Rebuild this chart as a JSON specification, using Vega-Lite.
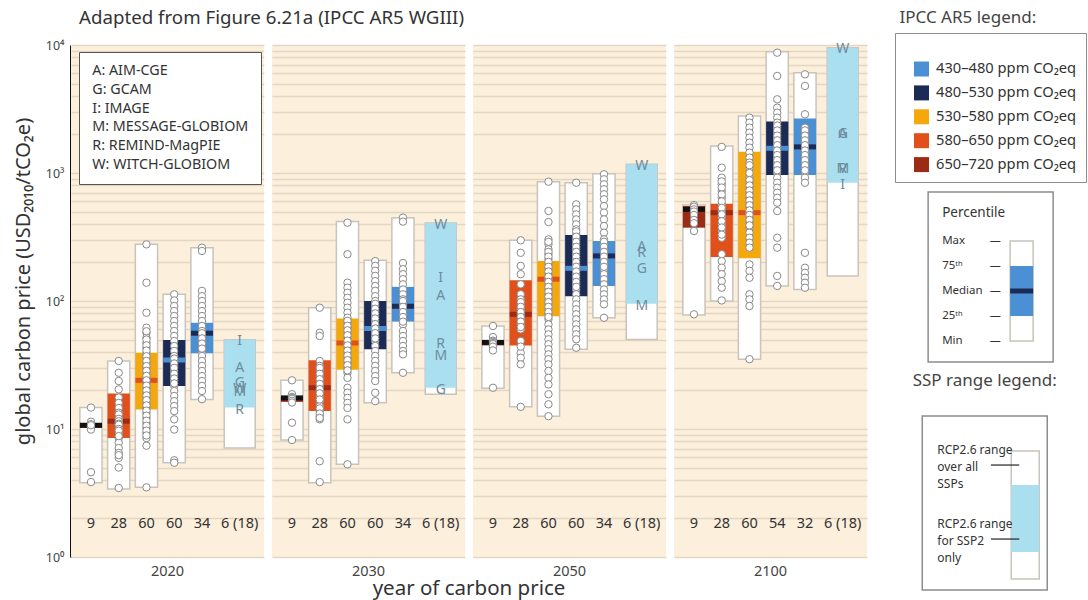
{
"$schema":"https://vega.github.io/schema/vega-lite/v6.json",
"background":"white",
"padding":{"left":13,"top":8,"right":0,"bottom":0},
"config":{"font":"Noto Sans","view":{"stroke":null},"title":{"fontWeight":"normal"}},
"spacing":27,
"columns":2,
"resolve":{"scale":{"x":"independent","y":"independent","color":"independent","fill":"independent","stroke":"independent"},"legend":{"color":"independent","fill":"independent","stroke":"independent"}},
"concat":[
{
"title":{"text":"Adapted from Figure 6.21a (IPCC AR5 WGIII)","anchor":"start","frame":"group","fontSize":18.7,"fontWeight":"normal","color":"#333333","offset":11,"dx":8},
"data":{"values":[
{"t":"box","year":"2020","cat":"650","min":3.8,"q25":10.2,"med":10.7,"q75":11.1,"max":14.7,"n":"9"},
{"t":"box","year":"2020","cat":"580","min":3.4,"q25":8.5,"med":11.5,"q75":18.9,"max":34,"n":"28"},
{"t":"box","year":"2020","cat":"530","min":3.5,"q25":14.2,"med":24,"q75":39.5,"max":277,"n":"60"},
{"t":"box","year":"2020","cat":"480","min":5.45,"q25":21.7,"med":34.6,"q75":49.6,"max":113,"n":"60"},
{"t":"box","year":"2020","cat":"430","min":17,"q25":39,"med":56,"q75":67.6,"max":261,"n":"34"},
{"t":"ssp","year":"2020","cat":"SSP","min":7.1,"q25":14.7,"q75":49.9,"max":49.9,"n":"6 (18)"},
{"t":"box","year":"2030","cat":"650","min":8.2,"q25":16.3,"med":17.5,"q75":17.9,"max":24,"n":"9"},
{"t":"box","year":"2030","cat":"580","min":3.8,"q25":13.8,"med":21,"q75":34.4,"max":88.7,"n":"28"},
{"t":"box","year":"2030","cat":"530","min":5.3,"q25":29,"med":47,"q75":73,"max":417,"n":"60"},
{"t":"box","year":"2030","cat":"480","min":16,"q25":41.9,"med":61,"q75":100,"max":208,"n":"60"},
{"t":"box","year":"2030","cat":"430","min":27.5,"q25":69,"med":91,"q75":129,"max":448,"n":"34"},
{"t":"ssp","year":"2030","cat":"SSP","min":18.7,"q25":21,"q75":407,"max":407,"n":"6 (18)"},
{"t":"box","year":"2050","cat":"650","min":20.8,"q25":45,"med":47.5,"q75":48.5,"max":63.8,"n":"9"},
{"t":"box","year":"2050","cat":"580","min":14.9,"q25":45,"med":78.7,"q75":145,"max":298,"n":"28"},
{"t":"box","year":"2050","cat":"530","min":12.6,"q25":76,"med":148,"q75":205,"max":855,"n":"60"},
{"t":"box","year":"2050","cat":"480","min":42,"q25":109,"med":180,"q75":328,"max":839,"n":"60"},
{"t":"box","year":"2050","cat":"430","min":74,"q25":131,"med":225,"q75":294,"max":988,"n":"34"},
{"t":"ssp","year":"2050","cat":"SSP","min":50,"q25":95,"q75":1170,"max":1170,"n":"6 (18)"},
{"t":"box","year":"2100","cat":"650","min":77.6,"q25":374,"med":520,"q75":552,"max":562,"n":"9"},
{"t":"box","year":"2100","cat":"580","min":100,"q25":221,"med":490,"q75":575,"max":1625,"n":"28"},
{"t":"box","year":"2100","cat":"530","min":35,"q25":216,"med":490,"q75":1466,"max":2790,"n":"60"},
{"t":"box","year":"2100","cat":"480","min":131,"q25":964,"med":1560,"q75":2520,"max":8870,"n":"54"},
{"t":"box","year":"2100","cat":"430","min":123,"q25":964,"med":1600,"q75":2670,"max":6080,"n":"32"},
{"t":"ssp","year":"2100","cat":"SSP","min":157,"q25":839,"q75":9530,"max":9530,"n":"6 (18)"},
{"t":"let","year":"2020","cat":"SSP","letter":"I","model":"I: IMAGE","v":49},
{"t":"let","year":"2020","cat":"SSP","letter":"A","model":"A: AIM-CGE","v":30},
{"t":"let","year":"2020","cat":"SSP","letter":"G","model":"G: GCAM","v":22.8},
{"t":"let","year":"2020","cat":"SSP","letter":"W","model":"W: WITCH-GLOBIOM","v":20.5},
{"t":"let","year":"2020","cat":"SSP","letter":"M","model":"M: MESSAGE-GLOBIOM","v":19.3},
{"t":"let","year":"2020","cat":"SSP","letter":"R","model":"R: REMIND-MagPIE","v":14},
{"t":"let","year":"2030","cat":"SSP","letter":"W","model":"W: WITCH-GLOBIOM","v":395},
{"t":"let","year":"2030","cat":"SSP","letter":"I","model":"I: IMAGE","v":150},
{"t":"let","year":"2030","cat":"SSP","letter":"A","model":"A: AIM-CGE","v":109},
{"t":"let","year":"2030","cat":"SSP","letter":"R","model":"R: REMIND-MagPIE","v":46},
{"t":"let","year":"2030","cat":"SSP","letter":"M","model":"M: MESSAGE-GLOBIOM","v":37},
{"t":"let","year":"2030","cat":"SSP","letter":"G","model":"G: GCAM","v":20},
{"t":"let","year":"2050","cat":"SSP","letter":"W","model":"W: WITCH-GLOBIOM","v":1135},
{"t":"let","year":"2050","cat":"SSP","letter":"A","model":"A: AIM-CGE","v":262},
{"t":"let","year":"2050","cat":"SSP","letter":"R","model":"R: REMIND-MagPIE","v":238},
{"t":"let","year":"2050","cat":"SSP","letter":"G","model":"G: GCAM","v":177},
{"t":"let","year":"2050","cat":"SSP","letter":"M","model":"M: MESSAGE-GLOBIOM","v":91},
{"t":"let","year":"2100","cat":"SSP","letter":"W","model":"W: WITCH-GLOBIOM","v":9300},
{"t":"let","year":"2100","cat":"SSP","letter":"G","model":"G: GCAM","v":2000},
{"t":"let","year":"2100","cat":"SSP","letter":"A","model":"A: AIM-CGE","v":2000},
{"t":"let","year":"2100","cat":"SSP","letter":"M","model":"M: MESSAGE-GLOBIOM","v":1070},
{"t":"let","year":"2100","cat":"SSP","letter":"R","model":"R: REMIND-MagPIE","v":1070},
{"t":"let","year":"2100","cat":"SSP","letter":"I","model":"I: IMAGE","v":805},
{"t":"pt","year":"2020","cat":"650","v":14.7},{"t":"pt","year":"2020","cat":"650","v":11.4},{"t":"pt","year":"2020","cat":"650","v":10.9},{"t":"pt","year":"2020","cat":"650","v":10.5},{"t":"pt","year":"2020","cat":"650","v":10.2},{"t":"pt","year":"2020","cat":"650","v":9.9},{"t":"pt","year":"2020","cat":"650","v":4.6},{"t":"pt","year":"2020","cat":"650","v":3.85},{"t":"pt","year":"2020","cat":"650","v":10.7},
{"t":"pt","year":"2020","cat":"580","v":34},{"t":"pt","year":"2020","cat":"580","v":27.5},{"t":"pt","year":"2020","cat":"580","v":23.7},{"t":"pt","year":"2020","cat":"580","v":20.4},{"t":"pt","year":"2020","cat":"580","v":17.6},{"t":"pt","year":"2020","cat":"580","v":16},{"t":"pt","year":"2020","cat":"580","v":14.6},{"t":"pt","year":"2020","cat":"580","v":13.4},{"t":"pt","year":"2020","cat":"580","v":12.2},{"t":"pt","year":"2020","cat":"580","v":11.2},{"t":"pt","year":"2020","cat":"580","v":10.2},{"t":"pt","year":"2020","cat":"580","v":9.35},{"t":"pt","year":"2020","cat":"580","v":8.5},{"t":"pt","year":"2020","cat":"580","v":7.8},{"t":"pt","year":"2020","cat":"580","v":7.1},{"t":"pt","year":"2020","cat":"580","v":6.5},{"t":"pt","year":"2020","cat":"580","v":5.95},{"t":"pt","year":"2020","cat":"580","v":5},{"t":"pt","year":"2020","cat":"580","v":3.46},{"t":"pt","year":"2020","cat":"580","v":13},{"t":"pt","year":"2020","cat":"580","v":12},{"t":"pt","year":"2020","cat":"580","v":11.5},{"t":"pt","year":"2020","cat":"580","v":11},{"t":"pt","year":"2020","cat":"580","v":10.8},{"t":"pt","year":"2020","cat":"580","v":10},{"t":"pt","year":"2020","cat":"580","v":9.7},{"t":"pt","year":"2020","cat":"580","v":8.8},{"t":"pt","year":"2020","cat":"580","v":6.25},
{"t":"pt","year":"2020","cat":"530","v":277},{"t":"pt","year":"2020","cat":"530","v":139},{"t":"pt","year":"2020","cat":"530","v":81},{"t":"pt","year":"2020","cat":"530","v":61.9},{"t":"pt","year":"2020","cat":"530","v":56.5},{"t":"pt","year":"2020","cat":"530","v":51.6},{"t":"pt","year":"2020","cat":"530","v":47.1},{"t":"pt","year":"2020","cat":"530","v":43},{"t":"pt","year":"2020","cat":"530","v":39.3},{"t":"pt","year":"2020","cat":"530","v":35.9},{"t":"pt","year":"2020","cat":"530","v":32.8},{"t":"pt","year":"2020","cat":"530","v":30},{"t":"pt","year":"2020","cat":"530","v":27.4},{"t":"pt","year":"2020","cat":"530","v":25},{"t":"pt","year":"2020","cat":"530","v":22.9},{"t":"pt","year":"2020","cat":"530","v":20.9},{"t":"pt","year":"2020","cat":"530","v":19.1},{"t":"pt","year":"2020","cat":"530","v":17.5},{"t":"pt","year":"2020","cat":"530","v":16},{"t":"pt","year":"2020","cat":"530","v":14.6},{"t":"pt","year":"2020","cat":"530","v":13.3},{"t":"pt","year":"2020","cat":"530","v":12.2},{"t":"pt","year":"2020","cat":"530","v":11.1},{"t":"pt","year":"2020","cat":"530","v":10.2},{"t":"pt","year":"2020","cat":"530","v":9.3},{"t":"pt","year":"2020","cat":"530","v":8.5},{"t":"pt","year":"2020","cat":"530","v":7.4},{"t":"pt","year":"2020","cat":"530","v":3.5},{"t":"pt","year":"2020","cat":"530","v":58},{"t":"pt","year":"2020","cat":"530","v":50},{"t":"pt","year":"2020","cat":"530","v":45},{"t":"pt","year":"2020","cat":"530","v":41},{"t":"pt","year":"2020","cat":"530","v":37},{"t":"pt","year":"2020","cat":"530","v":34},{"t":"pt","year":"2020","cat":"530","v":31},{"t":"pt","year":"2020","cat":"530","v":28.5},{"t":"pt","year":"2020","cat":"530","v":26},{"t":"pt","year":"2020","cat":"530","v":24},{"t":"pt","year":"2020","cat":"530","v":21.8},{"t":"pt","year":"2020","cat":"530","v":20},{"t":"pt","year":"2020","cat":"530","v":18.3},{"t":"pt","year":"2020","cat":"530","v":16.8},{"t":"pt","year":"2020","cat":"530","v":15.3},{"t":"pt","year":"2020","cat":"530","v":13.9},{"t":"pt","year":"2020","cat":"530","v":12.7},{"t":"pt","year":"2020","cat":"530","v":11.6},{"t":"pt","year":"2020","cat":"530","v":10.6},{"t":"pt","year":"2020","cat":"530","v":9.7},{"t":"pt","year":"2020","cat":"530","v":8.9},
{"t":"pt","year":"2020","cat":"480","v":112.8},{"t":"pt","year":"2020","cat":"480","v":101},{"t":"pt","year":"2020","cat":"480","v":91.4},{"t":"pt","year":"2020","cat":"480","v":83.5},{"t":"pt","year":"2020","cat":"480","v":76.3},{"t":"pt","year":"2020","cat":"480","v":69.8},{"t":"pt","year":"2020","cat":"480","v":63.8},{"t":"pt","year":"2020","cat":"480","v":58.3},{"t":"pt","year":"2020","cat":"480","v":53.3},{"t":"pt","year":"2020","cat":"480","v":48.7},{"t":"pt","year":"2020","cat":"480","v":44.5},{"t":"pt","year":"2020","cat":"480","v":40.7},{"t":"pt","year":"2020","cat":"480","v":37.2},{"t":"pt","year":"2020","cat":"480","v":34},{"t":"pt","year":"2020","cat":"480","v":31.1},{"t":"pt","year":"2020","cat":"480","v":28.4},{"t":"pt","year":"2020","cat":"480","v":25.9},{"t":"pt","year":"2020","cat":"480","v":23.7},{"t":"pt","year":"2020","cat":"480","v":21.7},{"t":"pt","year":"2020","cat":"480","v":19.8},{"t":"pt","year":"2020","cat":"480","v":18.1},{"t":"pt","year":"2020","cat":"480","v":16.5},{"t":"pt","year":"2020","cat":"480","v":15.1},{"t":"pt","year":"2020","cat":"480","v":13.8},{"t":"pt","year":"2020","cat":"480","v":11.9},{"t":"pt","year":"2020","cat":"480","v":9.9},{"t":"pt","year":"2020","cat":"480","v":5.7},{"t":"pt","year":"2020","cat":"480","v":5.45},{"t":"pt","year":"2020","cat":"480","v":35.5},{"t":"pt","year":"2020","cat":"480","v":32.5},{"t":"pt","year":"2020","cat":"480","v":30},{"t":"pt","year":"2020","cat":"480","v":27},{"t":"pt","year":"2020","cat":"480","v":24.8},{"t":"pt","year":"2020","cat":"480","v":22.7},
{"t":"pt","year":"2020","cat":"430","v":261},{"t":"pt","year":"2020","cat":"430","v":246},{"t":"pt","year":"2020","cat":"430","v":120},{"t":"pt","year":"2020","cat":"430","v":109},{"t":"pt","year":"2020","cat":"430","v":100},{"t":"pt","year":"2020","cat":"430","v":91.4},{"t":"pt","year":"2020","cat":"430","v":83.5},{"t":"pt","year":"2020","cat":"430","v":76.3},{"t":"pt","year":"2020","cat":"430","v":69.8},{"t":"pt","year":"2020","cat":"430","v":63.8},{"t":"pt","year":"2020","cat":"430","v":58.3},{"t":"pt","year":"2020","cat":"430","v":53.3},{"t":"pt","year":"2020","cat":"430","v":48.7},{"t":"pt","year":"2020","cat":"430","v":44.5},{"t":"pt","year":"2020","cat":"430","v":40.7},{"t":"pt","year":"2020","cat":"430","v":37.2},{"t":"pt","year":"2020","cat":"430","v":34},{"t":"pt","year":"2020","cat":"430","v":31.1},{"t":"pt","year":"2020","cat":"430","v":28.4},{"t":"pt","year":"2020","cat":"430","v":25.9},{"t":"pt","year":"2020","cat":"430","v":23.7},{"t":"pt","year":"2020","cat":"430","v":21.7},{"t":"pt","year":"2020","cat":"430","v":19.8},{"t":"pt","year":"2020","cat":"430","v":17.1},{"t":"pt","year":"2020","cat":"430","v":56},{"t":"pt","year":"2020","cat":"430","v":51},{"t":"pt","year":"2020","cat":"430","v":46.5},{"t":"pt","year":"2020","cat":"430","v":42.5},
{"t":"pt","year":"2030","cat":"650","v":24},{"t":"pt","year":"2030","cat":"650","v":18.7},{"t":"pt","year":"2030","cat":"650","v":17.8},{"t":"pt","year":"2030","cat":"650","v":17.5},{"t":"pt","year":"2030","cat":"650","v":17.2},{"t":"pt","year":"2030","cat":"650","v":16.6},{"t":"pt","year":"2030","cat":"650","v":16.1},{"t":"pt","year":"2030","cat":"650","v":11.2},{"t":"pt","year":"2030","cat":"650","v":8.2},
{"t":"pt","year":"2030","cat":"580","v":88.6},{"t":"pt","year":"2030","cat":"580","v":56.5},{"t":"pt","year":"2030","cat":"580","v":53.3},{"t":"pt","year":"2030","cat":"580","v":34},{"t":"pt","year":"2030","cat":"580","v":31.1},{"t":"pt","year":"2030","cat":"580","v":28.4},{"t":"pt","year":"2030","cat":"580","v":25.9},{"t":"pt","year":"2030","cat":"580","v":23.7},{"t":"pt","year":"2030","cat":"580","v":21.7},{"t":"pt","year":"2030","cat":"580","v":19.8},{"t":"pt","year":"2030","cat":"580","v":18.1},{"t":"pt","year":"2030","cat":"580","v":16.5},{"t":"pt","year":"2030","cat":"580","v":15.1},{"t":"pt","year":"2030","cat":"580","v":13.8},{"t":"pt","year":"2030","cat":"580","v":12.6},{"t":"pt","year":"2030","cat":"580","v":11.9},{"t":"pt","year":"2030","cat":"580","v":5.6},{"t":"pt","year":"2030","cat":"580","v":3.85},{"t":"pt","year":"2030","cat":"580","v":30},{"t":"pt","year":"2030","cat":"580","v":27},{"t":"pt","year":"2030","cat":"580","v":24.5},{"t":"pt","year":"2030","cat":"580","v":22.5},{"t":"pt","year":"2030","cat":"580","v":20.5},{"t":"pt","year":"2030","cat":"580","v":19},{"t":"pt","year":"2030","cat":"580","v":17},{"t":"pt","year":"2030","cat":"580","v":14.5},{"t":"pt","year":"2030","cat":"580","v":13.2},{"t":"pt","year":"2030","cat":"580","v":12.2},
{"t":"pt","year":"2030","cat":"530","v":409},{"t":"pt","year":"2030","cat":"530","v":232},{"t":"pt","year":"2030","cat":"530","v":139},{"t":"pt","year":"2030","cat":"530","v":127},{"t":"pt","year":"2030","cat":"530","v":116},{"t":"pt","year":"2030","cat":"530","v":106},{"t":"pt","year":"2030","cat":"530","v":97},{"t":"pt","year":"2030","cat":"530","v":88.6},{"t":"pt","year":"2030","cat":"530","v":81},{"t":"pt","year":"2030","cat":"530","v":74},{"t":"pt","year":"2030","cat":"530","v":67.6},{"t":"pt","year":"2030","cat":"530","v":61.8},{"t":"pt","year":"2030","cat":"530","v":56.5},{"t":"pt","year":"2030","cat":"530","v":51.6},{"t":"pt","year":"2030","cat":"530","v":47.1},{"t":"pt","year":"2030","cat":"530","v":43.1},{"t":"pt","year":"2030","cat":"530","v":39.4},{"t":"pt","year":"2030","cat":"530","v":36},{"t":"pt","year":"2030","cat":"530","v":32.9},{"t":"pt","year":"2030","cat":"530","v":30},{"t":"pt","year":"2030","cat":"530","v":27.5},{"t":"pt","year":"2030","cat":"530","v":25.1},{"t":"pt","year":"2030","cat":"530","v":21},{"t":"pt","year":"2030","cat":"530","v":19.2},{"t":"pt","year":"2030","cat":"530","v":17.5},{"t":"pt","year":"2030","cat":"530","v":16},{"t":"pt","year":"2030","cat":"530","v":14.6},{"t":"pt","year":"2030","cat":"530","v":11.9},{"t":"pt","year":"2030","cat":"530","v":5.3},{"t":"pt","year":"2030","cat":"530","v":70},{"t":"pt","year":"2030","cat":"530","v":64},{"t":"pt","year":"2030","cat":"530","v":59},{"t":"pt","year":"2030","cat":"530","v":54},{"t":"pt","year":"2030","cat":"530","v":49},{"t":"pt","year":"2030","cat":"530","v":45},{"t":"pt","year":"2030","cat":"530","v":41},{"t":"pt","year":"2030","cat":"530","v":37.5},{"t":"pt","year":"2030","cat":"530","v":34.5},{"t":"pt","year":"2030","cat":"530","v":31.5},{"t":"pt","year":"2030","cat":"530","v":28.7},
{"t":"pt","year":"2030","cat":"480","v":205},{"t":"pt","year":"2030","cat":"480","v":188},{"t":"pt","year":"2030","cat":"480","v":172},{"t":"pt","year":"2030","cat":"480","v":157},{"t":"pt","year":"2030","cat":"480","v":143},{"t":"pt","year":"2030","cat":"480","v":131},{"t":"pt","year":"2030","cat":"480","v":120},{"t":"pt","year":"2030","cat":"480","v":109},{"t":"pt","year":"2030","cat":"480","v":100},{"t":"pt","year":"2030","cat":"480","v":91.4},{"t":"pt","year":"2030","cat":"480","v":83.5},{"t":"pt","year":"2030","cat":"480","v":76.3},{"t":"pt","year":"2030","cat":"480","v":69.8},{"t":"pt","year":"2030","cat":"480","v":63.8},{"t":"pt","year":"2030","cat":"480","v":58.3},{"t":"pt","year":"2030","cat":"480","v":53.3},{"t":"pt","year":"2030","cat":"480","v":48.7},{"t":"pt","year":"2030","cat":"480","v":44.5},{"t":"pt","year":"2030","cat":"480","v":40.7},{"t":"pt","year":"2030","cat":"480","v":37.2},{"t":"pt","year":"2030","cat":"480","v":34},{"t":"pt","year":"2030","cat":"480","v":31.1},{"t":"pt","year":"2030","cat":"480","v":28.4},{"t":"pt","year":"2030","cat":"480","v":25.9},{"t":"pt","year":"2030","cat":"480","v":23.7},{"t":"pt","year":"2030","cat":"480","v":19.2},{"t":"pt","year":"2030","cat":"480","v":16.5},{"t":"pt","year":"2030","cat":"480","v":95},{"t":"pt","year":"2030","cat":"480","v":87},{"t":"pt","year":"2030","cat":"480","v":80},{"t":"pt","year":"2030","cat":"480","v":73},{"t":"pt","year":"2030","cat":"480","v":66},{"t":"pt","year":"2030","cat":"480","v":61},{"t":"pt","year":"2030","cat":"480","v":56},{"t":"pt","year":"2030","cat":"480","v":51},
{"t":"pt","year":"2030","cat":"430","v":448},{"t":"pt","year":"2030","cat":"430","v":417},{"t":"pt","year":"2030","cat":"430","v":198},{"t":"pt","year":"2030","cat":"430","v":177},{"t":"pt","year":"2030","cat":"430","v":162},{"t":"pt","year":"2030","cat":"430","v":148},{"t":"pt","year":"2030","cat":"430","v":135},{"t":"pt","year":"2030","cat":"430","v":123},{"t":"pt","year":"2030","cat":"430","v":112.8},{"t":"pt","year":"2030","cat":"430","v":103},{"t":"pt","year":"2030","cat":"430","v":94.2},{"t":"pt","year":"2030","cat":"430","v":86.1},{"t":"pt","year":"2030","cat":"430","v":78.7},{"t":"pt","year":"2030","cat":"430","v":71.9},{"t":"pt","year":"2030","cat":"430","v":65.7},{"t":"pt","year":"2030","cat":"430","v":58.3},{"t":"pt","year":"2030","cat":"430","v":53.3},{"t":"pt","year":"2030","cat":"430","v":48.7},{"t":"pt","year":"2030","cat":"430","v":44.5},{"t":"pt","year":"2030","cat":"430","v":40.7},{"t":"pt","year":"2030","cat":"430","v":38.3},{"t":"pt","year":"2030","cat":"430","v":27.5},{"t":"pt","year":"2030","cat":"430","v":100},{"t":"pt","year":"2030","cat":"430","v":90},{"t":"pt","year":"2030","cat":"430","v":82},{"t":"pt","year":"2030","cat":"430","v":75},{"t":"pt","year":"2030","cat":"430","v":69},
{"t":"pt","year":"2050","cat":"650","v":63.8},{"t":"pt","year":"2050","cat":"650","v":52.3},{"t":"pt","year":"2050","cat":"650","v":49},{"t":"pt","year":"2050","cat":"650","v":48},{"t":"pt","year":"2050","cat":"650","v":47},{"t":"pt","year":"2050","cat":"650","v":46},{"t":"pt","year":"2050","cat":"650","v":44},{"t":"pt","year":"2050","cat":"650","v":41.1},{"t":"pt","year":"2050","cat":"650","v":21},
{"t":"pt","year":"2050","cat":"580","v":298},{"t":"pt","year":"2050","cat":"580","v":238},{"t":"pt","year":"2050","cat":"580","v":188},{"t":"pt","year":"2050","cat":"580","v":162},{"t":"pt","year":"2050","cat":"580","v":135},{"t":"pt","year":"2050","cat":"580","v":112.8},{"t":"pt","year":"2050","cat":"580","v":103},{"t":"pt","year":"2050","cat":"580","v":94.2},{"t":"pt","year":"2050","cat":"580","v":86.1},{"t":"pt","year":"2050","cat":"580","v":78.7},{"t":"pt","year":"2050","cat":"580","v":71.9},{"t":"pt","year":"2050","cat":"580","v":65.7},{"t":"pt","year":"2050","cat":"580","v":60},{"t":"pt","year":"2050","cat":"580","v":48.7},{"t":"pt","year":"2050","cat":"580","v":39.4},{"t":"pt","year":"2050","cat":"580","v":36},{"t":"pt","year":"2050","cat":"580","v":32},{"t":"pt","year":"2050","cat":"580","v":14.9},{"t":"pt","year":"2050","cat":"580","v":98},{"t":"pt","year":"2050","cat":"580","v":90},{"t":"pt","year":"2050","cat":"580","v":82},{"t":"pt","year":"2050","cat":"580","v":75},{"t":"pt","year":"2050","cat":"580","v":69},{"t":"pt","year":"2050","cat":"580","v":62.7},{"t":"pt","year":"2050","cat":"580","v":44},
{"t":"pt","year":"2050","cat":"530","v":855},{"t":"pt","year":"2050","cat":"530","v":505},{"t":"pt","year":"2050","cat":"530","v":414},{"t":"pt","year":"2050","cat":"530","v":303},{"t":"pt","year":"2050","cat":"530","v":277},{"t":"pt","year":"2050","cat":"530","v":253},{"t":"pt","year":"2050","cat":"530","v":232},{"t":"pt","year":"2050","cat":"530","v":212},{"t":"pt","year":"2050","cat":"530","v":193},{"t":"pt","year":"2050","cat":"530","v":177},{"t":"pt","year":"2050","cat":"530","v":162},{"t":"pt","year":"2050","cat":"530","v":148},{"t":"pt","year":"2050","cat":"530","v":135},{"t":"pt","year":"2050","cat":"530","v":123},{"t":"pt","year":"2050","cat":"530","v":112.8},{"t":"pt","year":"2050","cat":"530","v":103},{"t":"pt","year":"2050","cat":"530","v":94.2},{"t":"pt","year":"2050","cat":"530","v":86.1},{"t":"pt","year":"2050","cat":"530","v":78.7},{"t":"pt","year":"2050","cat":"530","v":71.9},{"t":"pt","year":"2050","cat":"530","v":65.7},{"t":"pt","year":"2050","cat":"530","v":60},{"t":"pt","year":"2050","cat":"530","v":54.9},{"t":"pt","year":"2050","cat":"530","v":50.2},{"t":"pt","year":"2050","cat":"530","v":45.9},{"t":"pt","year":"2050","cat":"530","v":42},{"t":"pt","year":"2050","cat":"530","v":38.3},{"t":"pt","year":"2050","cat":"530","v":35.1},{"t":"pt","year":"2050","cat":"530","v":32},{"t":"pt","year":"2050","cat":"530","v":28.4},{"t":"pt","year":"2050","cat":"530","v":25.1},{"t":"pt","year":"2050","cat":"530","v":22.3},{"t":"pt","year":"2050","cat":"530","v":18.7},{"t":"pt","year":"2050","cat":"530","v":15.6},{"t":"pt","year":"2050","cat":"530","v":12.6},{"t":"pt","year":"2050","cat":"530","v":290},{"t":"pt","year":"2050","cat":"530","v":242},{"t":"pt","year":"2050","cat":"530","v":222},{"t":"pt","year":"2050","cat":"530","v":202},{"t":"pt","year":"2050","cat":"530","v":185},{"t":"pt","year":"2050","cat":"530","v":170},{"t":"pt","year":"2050","cat":"530","v":155},{"t":"pt","year":"2050","cat":"530","v":141},{"t":"pt","year":"2050","cat":"530","v":129},{"t":"pt","year":"2050","cat":"530","v":118},{"t":"pt","year":"2050","cat":"530","v":108},{"t":"pt","year":"2050","cat":"530","v":98},{"t":"pt","year":"2050","cat":"530","v":90},{"t":"pt","year":"2050","cat":"530","v":82},{"t":"pt","year":"2050","cat":"530","v":75},
{"t":"pt","year":"2050","cat":"480","v":839},{"t":"pt","year":"2050","cat":"480","v":569},{"t":"pt","year":"2050","cat":"480","v":520},{"t":"pt","year":"2050","cat":"480","v":475},{"t":"pt","year":"2050","cat":"480","v":434},{"t":"pt","year":"2050","cat":"480","v":397},{"t":"pt","year":"2050","cat":"480","v":363},{"t":"pt","year":"2050","cat":"480","v":332},{"t":"pt","year":"2050","cat":"480","v":303},{"t":"pt","year":"2050","cat":"480","v":277},{"t":"pt","year":"2050","cat":"480","v":253},{"t":"pt","year":"2050","cat":"480","v":232},{"t":"pt","year":"2050","cat":"480","v":212},{"t":"pt","year":"2050","cat":"480","v":193},{"t":"pt","year":"2050","cat":"480","v":177},{"t":"pt","year":"2050","cat":"480","v":162},{"t":"pt","year":"2050","cat":"480","v":148},{"t":"pt","year":"2050","cat":"480","v":135},{"t":"pt","year":"2050","cat":"480","v":123},{"t":"pt","year":"2050","cat":"480","v":112.8},{"t":"pt","year":"2050","cat":"480","v":103},{"t":"pt","year":"2050","cat":"480","v":94.2},{"t":"pt","year":"2050","cat":"480","v":86.1},{"t":"pt","year":"2050","cat":"480","v":78.7},{"t":"pt","year":"2050","cat":"480","v":71.9},{"t":"pt","year":"2050","cat":"480","v":65.7},{"t":"pt","year":"2050","cat":"480","v":60},{"t":"pt","year":"2050","cat":"480","v":54.9},{"t":"pt","year":"2050","cat":"480","v":50.2},{"t":"pt","year":"2050","cat":"480","v":43.1},{"t":"pt","year":"2050","cat":"480","v":350},{"t":"pt","year":"2050","cat":"480","v":318},{"t":"pt","year":"2050","cat":"480","v":290},{"t":"pt","year":"2050","cat":"480","v":265},{"t":"pt","year":"2050","cat":"480","v":242},{"t":"pt","year":"2050","cat":"480","v":222},{"t":"pt","year":"2050","cat":"480","v":202},{"t":"pt","year":"2050","cat":"480","v":185},{"t":"pt","year":"2050","cat":"480","v":170},{"t":"pt","year":"2050","cat":"480","v":155},{"t":"pt","year":"2050","cat":"480","v":141},{"t":"pt","year":"2050","cat":"480","v":129},
{"t":"pt","year":"2050","cat":"430","v":977},{"t":"pt","year":"2050","cat":"430","v":893},{"t":"pt","year":"2050","cat":"430","v":816},{"t":"pt","year":"2050","cat":"430","v":746},{"t":"pt","year":"2050","cat":"430","v":682},{"t":"pt","year":"2050","cat":"430","v":623},{"t":"pt","year":"2050","cat":"430","v":552},{"t":"pt","year":"2050","cat":"430","v":490},{"t":"pt","year":"2050","cat":"430","v":434},{"t":"pt","year":"2050","cat":"430","v":385},{"t":"pt","year":"2050","cat":"430","v":342},{"t":"pt","year":"2050","cat":"430","v":303},{"t":"pt","year":"2050","cat":"430","v":277},{"t":"pt","year":"2050","cat":"430","v":253},{"t":"pt","year":"2050","cat":"430","v":232},{"t":"pt","year":"2050","cat":"430","v":212},{"t":"pt","year":"2050","cat":"430","v":193},{"t":"pt","year":"2050","cat":"430","v":177},{"t":"pt","year":"2050","cat":"430","v":162},{"t":"pt","year":"2050","cat":"430","v":148},{"t":"pt","year":"2050","cat":"430","v":135},{"t":"pt","year":"2050","cat":"430","v":123},{"t":"pt","year":"2050","cat":"430","v":112.8},{"t":"pt","year":"2050","cat":"430","v":103},{"t":"pt","year":"2050","cat":"430","v":94.2},{"t":"pt","year":"2050","cat":"430","v":74},{"t":"pt","year":"2050","cat":"430","v":290},{"t":"pt","year":"2050","cat":"430","v":265},{"t":"pt","year":"2050","cat":"430","v":242},{"t":"pt","year":"2050","cat":"430","v":222},{"t":"pt","year":"2050","cat":"430","v":202},{"t":"pt","year":"2050","cat":"430","v":185},
{"t":"pt","year":"2100","cat":"650","v":562},{"t":"pt","year":"2100","cat":"650","v":545},{"t":"pt","year":"2100","cat":"650","v":520},{"t":"pt","year":"2100","cat":"650","v":500},{"t":"pt","year":"2100","cat":"650","v":470},{"t":"pt","year":"2100","cat":"650","v":430},{"t":"pt","year":"2100","cat":"650","v":405},{"t":"pt","year":"2100","cat":"650","v":352},{"t":"pt","year":"2100","cat":"650","v":78.7},
{"t":"pt","year":"2100","cat":"580","v":1600},{"t":"pt","year":"2100","cat":"580","v":1100},{"t":"pt","year":"2100","cat":"580","v":919},{"t":"pt","year":"2100","cat":"580","v":816},{"t":"pt","year":"2100","cat":"580","v":723},{"t":"pt","year":"2100","cat":"580","v":641},{"t":"pt","year":"2100","cat":"580","v":569},{"t":"pt","year":"2100","cat":"580","v":505},{"t":"pt","year":"2100","cat":"580","v":448},{"t":"pt","year":"2100","cat":"580","v":397},{"t":"pt","year":"2100","cat":"580","v":352},{"t":"pt","year":"2100","cat":"580","v":312},{"t":"pt","year":"2100","cat":"580","v":232},{"t":"pt","year":"2100","cat":"580","v":205},{"t":"pt","year":"2100","cat":"580","v":182},{"t":"pt","year":"2100","cat":"580","v":162},{"t":"pt","year":"2100","cat":"580","v":143},{"t":"pt","year":"2100","cat":"580","v":127},{"t":"pt","year":"2100","cat":"580","v":101},{"t":"pt","year":"2100","cat":"580","v":860},{"t":"pt","year":"2100","cat":"580","v":770},{"t":"pt","year":"2100","cat":"580","v":680},{"t":"pt","year":"2100","cat":"580","v":600},{"t":"pt","year":"2100","cat":"580","v":535},{"t":"pt","year":"2100","cat":"580","v":475},{"t":"pt","year":"2100","cat":"580","v":420},{"t":"pt","year":"2100","cat":"580","v":375},{"t":"pt","year":"2100","cat":"580","v":330},
{"t":"pt","year":"2100","cat":"530","v":2705},{"t":"pt","year":"2100","cat":"530","v":2473},{"t":"pt","year":"2100","cat":"530","v":2260},{"t":"pt","year":"2100","cat":"530","v":2065},{"t":"pt","year":"2100","cat":"530","v":1888},{"t":"pt","year":"2100","cat":"530","v":1726},{"t":"pt","year":"2100","cat":"530","v":1578},{"t":"pt","year":"2100","cat":"530","v":1442},{"t":"pt","year":"2100","cat":"530","v":1318},{"t":"pt","year":"2100","cat":"530","v":1205},{"t":"pt","year":"2100","cat":"530","v":1100},{"t":"pt","year":"2100","cat":"530","v":919},{"t":"pt","year":"2100","cat":"530","v":839},{"t":"pt","year":"2100","cat":"530","v":767},{"t":"pt","year":"2100","cat":"530","v":701},{"t":"pt","year":"2100","cat":"530","v":641},{"t":"pt","year":"2100","cat":"530","v":586},{"t":"pt","year":"2100","cat":"530","v":536},{"t":"pt","year":"2100","cat":"530","v":490},{"t":"pt","year":"2100","cat":"530","v":448},{"t":"pt","year":"2100","cat":"530","v":409},{"t":"pt","year":"2100","cat":"530","v":374},{"t":"pt","year":"2100","cat":"530","v":342},{"t":"pt","year":"2100","cat":"530","v":312},{"t":"pt","year":"2100","cat":"530","v":285},{"t":"pt","year":"2100","cat":"530","v":261},{"t":"pt","year":"2100","cat":"530","v":193},{"t":"pt","year":"2100","cat":"530","v":172},{"t":"pt","year":"2100","cat":"530","v":152},{"t":"pt","year":"2100","cat":"530","v":112.8},{"t":"pt","year":"2100","cat":"530","v":103},{"t":"pt","year":"2100","cat":"530","v":91.4},{"t":"pt","year":"2100","cat":"530","v":35.1},{"t":"pt","year":"2100","cat":"530","v":1150},{"t":"pt","year":"2100","cat":"530","v":1000},{"t":"pt","year":"2100","cat":"530","v":880},{"t":"pt","year":"2100","cat":"530","v":800},{"t":"pt","year":"2100","cat":"530","v":730},{"t":"pt","year":"2100","cat":"530","v":670},{"t":"pt","year":"2100","cat":"530","v":610},{"t":"pt","year":"2100","cat":"530","v":560},{"t":"pt","year":"2100","cat":"530","v":510},{"t":"pt","year":"2100","cat":"530","v":470},{"t":"pt","year":"2100","cat":"530","v":430},{"t":"pt","year":"2100","cat":"530","v":390},
{"t":"pt","year":"2100","cat":"480","v":8710},{"t":"pt","year":"2100","cat":"480","v":5730},{"t":"pt","year":"2100","cat":"480","v":3765},{"t":"pt","year":"2100","cat":"480","v":3237},{"t":"pt","year":"2100","cat":"480","v":2958},{"t":"pt","year":"2100","cat":"480","v":2705},{"t":"pt","year":"2100","cat":"480","v":2473},{"t":"pt","year":"2100","cat":"480","v":2260},{"t":"pt","year":"2100","cat":"480","v":2065},{"t":"pt","year":"2100","cat":"480","v":1888},{"t":"pt","year":"2100","cat":"480","v":1726},{"t":"pt","year":"2100","cat":"480","v":1578},{"t":"pt","year":"2100","cat":"480","v":1442},{"t":"pt","year":"2100","cat":"480","v":1318},{"t":"pt","year":"2100","cat":"480","v":1205},{"t":"pt","year":"2100","cat":"480","v":1100},{"t":"pt","year":"2100","cat":"480","v":1005},{"t":"pt","year":"2100","cat":"480","v":919},{"t":"pt","year":"2100","cat":"480","v":839},{"t":"pt","year":"2100","cat":"480","v":767},{"t":"pt","year":"2100","cat":"480","v":701},{"t":"pt","year":"2100","cat":"480","v":641},{"t":"pt","year":"2100","cat":"480","v":586},{"t":"pt","year":"2100","cat":"480","v":505},{"t":"pt","year":"2100","cat":"480","v":312},{"t":"pt","year":"2100","cat":"480","v":261},{"t":"pt","year":"2100","cat":"480","v":157},{"t":"pt","year":"2100","cat":"480","v":131},{"t":"pt","year":"2100","cat":"480","v":2350},{"t":"pt","year":"2100","cat":"480","v":2150},{"t":"pt","year":"2100","cat":"480","v":1960},{"t":"pt","year":"2100","cat":"480","v":1800},{"t":"pt","year":"2100","cat":"480","v":1650},{"t":"pt","year":"2100","cat":"480","v":1500},{"t":"pt","year":"2100","cat":"480","v":1380},{"t":"pt","year":"2100","cat":"480","v":1260},{"t":"pt","year":"2100","cat":"480","v":1150},{"t":"pt","year":"2100","cat":"480","v":1050},
{"t":"pt","year":"2100","cat":"430","v":5900},{"t":"pt","year":"2100","cat":"430","v":4786},{"t":"pt","year":"2100","cat":"430","v":2875},{"t":"pt","year":"2100","cat":"430","v":2260},{"t":"pt","year":"2100","cat":"430","v":2065},{"t":"pt","year":"2100","cat":"430","v":1888},{"t":"pt","year":"2100","cat":"430","v":1726},{"t":"pt","year":"2100","cat":"430","v":1578},{"t":"pt","year":"2100","cat":"430","v":1442},{"t":"pt","year":"2100","cat":"430","v":1318},{"t":"pt","year":"2100","cat":"430","v":1205},{"t":"pt","year":"2100","cat":"430","v":1100},{"t":"pt","year":"2100","cat":"430","v":1005},{"t":"pt","year":"2100","cat":"430","v":919},{"t":"pt","year":"2100","cat":"430","v":839},{"t":"pt","year":"2100","cat":"430","v":238},{"t":"pt","year":"2100","cat":"430","v":182},{"t":"pt","year":"2100","cat":"430","v":166},{"t":"pt","year":"2100","cat":"430","v":152},{"t":"pt","year":"2100","cat":"430","v":139},{"t":"pt","year":"2100","cat":"430","v":127},{"t":"pt","year":"2100","cat":"430","v":2150},{"t":"pt","year":"2100","cat":"430","v":1960},{"t":"pt","year":"2100","cat":"430","v":1800},{"t":"pt","year":"2100","cat":"430","v":1650},{"t":"pt","year":"2100","cat":"430","v":1500},{"t":"pt","year":"2100","cat":"430","v":1380},{"t":"pt","year":"2100","cat":"430","v":1260},{"t":"pt","year":"2100","cat":"430","v":1150},{"t":"pt","year":"2100","cat":"430","v":1050}
]},
"facet":{"column":{"field":"year","type":"ordinal","header":{"labelOrient":"bottom","labelFontSize":14.5,"labelColor":"#444444","labelPadding":8,"title":"year of carbon price","titleOrient":"bottom","titleFontSize":20.5,"titleFontWeight":"normal","titleColor":"#333333","titlePadding":-10}}},
"spacing":8,
"spec":{
"width":193,"height":512,
"view":{"fill":"#fcf0dd","stroke":null},
"layer":[
{"transform":[{"filter":"datum.t=='box'"}],
 "mark":{"type":"bar","fill":"white","stroke":"#c8c4bc","strokeWidth":1.5,"width":{"band":0.8}},
 "encoding":{
  "x":{"field":"cat","type":"nominal","scale":{"domain":["650","580","530","480","430","SSP"],"paddingInner":0,"paddingOuter":0.4775,"align":0.23},"axis":null},
  "y":{"field":"min","type":"quantitative","scale":{"type":"log","domain":[1,10000],"nice":false},
   "axis":{"title":"global carbon price (USD₂₀₁₀/tCO₂e)","values":[1,2,3,4,5,6,7,8,9,10,20,30,40,50,60,70,80,90,100,200,300,400,500,600,700,800,900,1000,2000,3000,4000,5000,6000,7000,8000,9000,10000],"labelExpr":"datum.value == 1 ? '10⁰' : datum.value == 10 ? '10¹' : datum.value == 100 ? '10²' : datum.value == 1000 ? '10³' : datum.value == 10000 ? '10⁴' : ''","grid":true,"gridColor":"#e4d6c1","gridWidth":1.5,"ticks":false,"domain":true,"domainColor":"#111111","domainWidth":3,"labelFontSize":12.5,"labelColor":"#444444","labelPadding":7,"labelOverlap":false,"titleFontSize":20,"titleFontWeight":"normal","titleColor":"#333333","titlePadding":12,"titleY":236}},
  "y2":{"field":"max"}}},
{"transform":[{"filter":"datum.t=='box'"}],
 "mark":{"type":"bar","width":{"band":0.8}},
 "encoding":{
  "x":{"field":"cat","type":"nominal","scale":{"domain":["650","580","530","480","430","SSP"],"paddingInner":0,"paddingOuter":0.4775,"align":0.23},"axis":null},
  "y":{"field":"q25","type":"quantitative","scale":{"type":"log","domain":[1,10000],"nice":false},
   "axis":{"title":"global carbon price (USD₂₀₁₀/tCO₂e)","values":[1,2,3,4,5,6,7,8,9,10,20,30,40,50,60,70,80,90,100,200,300,400,500,600,700,800,900,1000,2000,3000,4000,5000,6000,7000,8000,9000,10000],"labelExpr":"datum.value == 1 ? '10⁰' : datum.value == 10 ? '10¹' : datum.value == 100 ? '10²' : datum.value == 1000 ? '10³' : datum.value == 10000 ? '10⁴' : ''","grid":true,"gridColor":"#e4d6c1","gridWidth":1.5,"ticks":false,"domain":true,"domainColor":"#111111","domainWidth":3,"labelFontSize":12.5,"labelColor":"#444444","labelPadding":7,"labelOverlap":false,"titleFontSize":20,"titleFontWeight":"normal","titleColor":"#333333","titlePadding":12,"titleY":236}},
  "y2":{"field":"q75"},
  "fill":{"field":"cat","type":"nominal","scale":{"domain":["650","580","530","480","430"],"range":["#9c2b16","#e14f1b","#f4a80c","#1c2b56","#4b8fd5"]},"legend":null}}},
{"transform":[{"filter":"datum.t=='box'"}],
 "mark":{"type":"tick","thickness":5,"size":22,"opacity":1},
 "encoding":{
  "x":{"field":"cat","type":"nominal","scale":{"domain":["650","580","530","480","430","SSP"],"paddingInner":0,"paddingOuter":0.4775,"align":0.23},"axis":null},
  "y":{"field":"med","type":"quantitative","scale":{"type":"log","domain":[1,10000],"nice":false},
   "axis":{"title":"global carbon price (USD₂₀₁₀/tCO₂e)","values":[1,2,3,4,5,6,7,8,9,10,20,30,40,50,60,70,80,90,100,200,300,400,500,600,700,800,900,1000,2000,3000,4000,5000,6000,7000,8000,9000,10000],"labelExpr":"datum.value == 1 ? '10⁰' : datum.value == 10 ? '10¹' : datum.value == 100 ? '10²' : datum.value == 1000 ? '10³' : datum.value == 10000 ? '10⁴' : ''","grid":true,"gridColor":"#e4d6c1","gridWidth":1.5,"ticks":false,"domain":true,"domainColor":"#111111","domainWidth":3,"labelFontSize":12.5,"labelColor":"#444444","labelPadding":7,"labelOverlap":false,"titleFontSize":20,"titleFontWeight":"normal","titleColor":"#333333","titlePadding":12,"titleY":236}},
  "color":{"field":"cat","type":"nominal","scale":{"domain":["650","580","530","480","430"],"range":["#111111","#9c2b16","#e14f1b","#4b8fd5","#1c2b56"]},"legend":null}}},
{"transform":[{"filter":"datum.t=='pt'"}],
 "mark":{"type":"point","shape":"circle","filled":true,"fill":"white","stroke":"#8a8a8a","strokeWidth":1,"size":55,"opacity":1},
 "encoding":{
  "x":{"field":"cat","type":"nominal","scale":{"domain":["650","580","530","480","430","SSP"],"paddingInner":0,"paddingOuter":0.4775,"align":0.23},"axis":null},
  "y":{"field":"v","type":"quantitative","scale":{"type":"log","domain":[1,10000],"nice":false},
   "axis":{"title":"global carbon price (USD₂₀₁₀/tCO₂e)","values":[1,2,3,4,5,6,7,8,9,10,20,30,40,50,60,70,80,90,100,200,300,400,500,600,700,800,900,1000,2000,3000,4000,5000,6000,7000,8000,9000,10000],"labelExpr":"datum.value == 1 ? '10⁰' : datum.value == 10 ? '10¹' : datum.value == 100 ? '10²' : datum.value == 1000 ? '10³' : datum.value == 10000 ? '10⁴' : ''","grid":true,"gridColor":"#e4d6c1","gridWidth":1.5,"ticks":false,"domain":true,"domainColor":"#111111","domainWidth":3,"labelFontSize":12.5,"labelColor":"#444444","labelPadding":7,"labelOverlap":false,"titleFontSize":20,"titleFontWeight":"normal","titleColor":"#333333","titlePadding":12,"titleY":236}}}},
{"transform":[{"filter":"datum.t=='ssp'"}],
 "mark":{"type":"bar","fill":"white","stroke":"#c8c4bc","strokeWidth":1.5,"width":31,"xOffset":10},
 "encoding":{
  "x":{"field":"cat","type":"nominal","scale":{"domain":["650","580","530","480","430","SSP"],"paddingInner":0,"paddingOuter":0.4775,"align":0.23},"axis":null},
  "y":{"field":"min","type":"quantitative","scale":{"type":"log","domain":[1,10000],"nice":false},
   "axis":{"title":"global carbon price (USD₂₀₁₀/tCO₂e)","values":[1,2,3,4,5,6,7,8,9,10,20,30,40,50,60,70,80,90,100,200,300,400,500,600,700,800,900,1000,2000,3000,4000,5000,6000,7000,8000,9000,10000],"labelExpr":"datum.value == 1 ? '10⁰' : datum.value == 10 ? '10¹' : datum.value == 100 ? '10²' : datum.value == 1000 ? '10³' : datum.value == 10000 ? '10⁴' : ''","grid":true,"gridColor":"#e4d6c1","gridWidth":1.5,"ticks":false,"domain":true,"domainColor":"#111111","domainWidth":3,"labelFontSize":12.5,"labelColor":"#444444","labelPadding":7,"labelOverlap":false,"titleFontSize":20,"titleFontWeight":"normal","titleColor":"#333333","titlePadding":12,"titleY":236}},
  "y2":{"field":"max"}}},
{"transform":[{"filter":"datum.t=='ssp'"}],
 "mark":{"type":"bar","fill":"#aadff0","width":31,"xOffset":10},
 "encoding":{
  "x":{"field":"cat","type":"nominal","scale":{"domain":["650","580","530","480","430","SSP"],"paddingInner":0,"paddingOuter":0.4775,"align":0.23},"axis":null},
  "y":{"field":"q25","type":"quantitative","scale":{"type":"log","domain":[1,10000],"nice":false},
   "axis":{"title":"global carbon price (USD₂₀₁₀/tCO₂e)","values":[1,2,3,4,5,6,7,8,9,10,20,30,40,50,60,70,80,90,100,200,300,400,500,600,700,800,900,1000,2000,3000,4000,5000,6000,7000,8000,9000,10000],"labelExpr":"datum.value == 1 ? '10⁰' : datum.value == 10 ? '10¹' : datum.value == 100 ? '10²' : datum.value == 1000 ? '10³' : datum.value == 10000 ? '10⁴' : ''","grid":true,"gridColor":"#e4d6c1","gridWidth":1.5,"ticks":false,"domain":true,"domainColor":"#111111","domainWidth":3,"labelFontSize":12.5,"labelColor":"#444444","labelPadding":7,"labelOverlap":false,"titleFontSize":20,"titleFontWeight":"normal","titleColor":"#333333","titlePadding":12,"titleY":236}},
  "y2":{"field":"q75"}}},
{"transform":[{"filter":"datum.t=='let'"}],
 "mark":{"type":"text","fontSize":14,"fill":"#6d8c9c","strokeWidth":0,"xOffset":10,"baseline":"middle"},
 "encoding":{
  "x":{"field":"cat","type":"nominal","scale":{"domain":["650","580","530","480","430","SSP"],"paddingInner":0,"paddingOuter":0.4775,"align":0.23},"axis":null},
  "y":{"field":"v","type":"quantitative","scale":{"type":"log","domain":[1,10000],"nice":false},
   "axis":{"title":"global carbon price (USD₂₀₁₀/tCO₂e)","values":[1,2,3,4,5,6,7,8,9,10,20,30,40,50,60,70,80,90,100,200,300,400,500,600,700,800,900,1000,2000,3000,4000,5000,6000,7000,8000,9000,10000],"labelExpr":"datum.value == 1 ? '10⁰' : datum.value == 10 ? '10¹' : datum.value == 100 ? '10²' : datum.value == 1000 ? '10³' : datum.value == 10000 ? '10⁴' : ''","grid":true,"gridColor":"#e4d6c1","gridWidth":1.5,"ticks":false,"domain":true,"domainColor":"#111111","domainWidth":3,"labelFontSize":12.5,"labelColor":"#444444","labelPadding":7,"labelOverlap":false,"titleFontSize":20,"titleFontWeight":"normal","titleColor":"#333333","titlePadding":12,"titleY":236}},
  "text":{"field":"letter"},
  "stroke":{"field":"model","type":"nominal","scale":{"domain":["A: AIM-CGE","G: GCAM","I: IMAGE","M: MESSAGE-GLOBIOM","R: REMIND-MagPIE","W: WITCH-GLOBIOM"],"range":["#6d8c9c","#6d8c9c","#6d8c9c","#6d8c9c","#6d8c9c","#6d8c9c"]},
   "legend":{"orient":"none","legendX":8,"legendY":7,"title":null,"symbolOpacity":0,"symbolSize":0,"symbolStrokeWidth":0,"labelFontSize":14.3,"labelColor":"#333333","labelOffset":-13,"rowPadding":3.7,"padding":12,"strokeColor":"#555555","fillColor":"white","labelLimit":300}}}},
{"transform":[{"filter":"datum.t=='box'"}],
 "mark":{"type":"text","fontSize":14.5,"color":"#333333","baseline":"middle"},
 "encoding":{
  "x":{"field":"cat","type":"nominal","scale":{"domain":["650","580","530","480","430","SSP"],"paddingInner":0,"paddingOuter":0.4775,"align":0.23},"axis":null},
  "y":{"datum":1.8,"type":"quantitative","scale":{"type":"log","domain":[1,10000],"nice":false},
   "axis":{"title":"global carbon price (USD₂₀₁₀/tCO₂e)","values":[1,2,3,4,5,6,7,8,9,10,20,30,40,50,60,70,80,90,100,200,300,400,500,600,700,800,900,1000,2000,3000,4000,5000,6000,7000,8000,9000,10000],"labelExpr":"datum.value == 1 ? '10⁰' : datum.value == 10 ? '10¹' : datum.value == 100 ? '10²' : datum.value == 1000 ? '10³' : datum.value == 10000 ? '10⁴' : ''","grid":true,"gridColor":"#e4d6c1","gridWidth":1.5,"ticks":false,"domain":true,"domainColor":"#111111","domainWidth":3,"labelFontSize":12.5,"labelColor":"#444444","labelPadding":7,"labelOverlap":false,"titleFontSize":20,"titleFontWeight":"normal","titleColor":"#333333","titlePadding":12,"titleY":236}},
  "text":{"field":"n"}}},
{"transform":[{"filter":"datum.t=='ssp'"}],
 "mark":{"type":"text","fontSize":14.5,"color":"#333333","baseline":"middle","xOffset":10},
 "encoding":{
  "x":{"field":"cat","type":"nominal","scale":{"domain":["650","580","530","480","430","SSP"],"paddingInner":0,"paddingOuter":0.4775,"align":0.23},"axis":null},
  "y":{"datum":1.8,"type":"quantitative","scale":{"type":"log","domain":[1,10000],"nice":false},
   "axis":{"title":"global carbon price (USD₂₀₁₀/tCO₂e)","values":[1,2,3,4,5,6,7,8,9,10,20,30,40,50,60,70,80,90,100,200,300,400,500,600,700,800,900,1000,2000,3000,4000,5000,6000,7000,8000,9000,10000],"labelExpr":"datum.value == 1 ? '10⁰' : datum.value == 10 ? '10¹' : datum.value == 100 ? '10²' : datum.value == 1000 ? '10³' : datum.value == 10000 ? '10⁴' : ''","grid":true,"gridColor":"#e4d6c1","gridWidth":1.5,"ticks":false,"domain":true,"domainColor":"#111111","domainWidth":3,"labelFontSize":12.5,"labelColor":"#444444","labelPadding":7,"labelOverlap":false,"titleFontSize":20,"titleFontWeight":"normal","titleColor":"#333333","titlePadding":12,"titleY":236}},
  "text":{"field":"n"}}}
]}
},
{
"vconcat":[
{
 "title":{"text":"IPCC AR5 legend:","anchor":"start","fontSize":17,"fontWeight":"normal","color":"#444444","offset":6,"dx":5},
 "width":192,"height":136,
 "data":{"values":[{"s":"430–480 ppm CO₂eq"},{"s":"480–530 ppm CO₂eq"},{"s":"530–580 ppm CO₂eq"},{"s":"580–650 ppm CO₂eq"},{"s":"650–720 ppm CO₂eq"}]},
 "mark":{"type":"point","shape":"square","filled":true,"opacity":0,"size":0},
 "encoding":{
  "color":{"field":"s","type":"nominal","sort":null,"scale":{"domain":["430–480 ppm CO₂eq","480–530 ppm CO₂eq","530–580 ppm CO₂eq","580–650 ppm CO₂eq","650–720 ppm CO₂eq"],"range":["#4b8fd5","#1c2b56","#f4a80c","#e14f1b","#9c2b16"]},
   "legend":{"orient":"none","legendX":0,"legendY":-12,"title":" ","titleFontSize":13,"titlePadding":6.5,"symbolType":"square","symbolSize":225,"symbolStrokeWidth":0,"symbolOpacity":1,"symbolOffset":10,"labelFontSize":14.7,"labelColor":"#333333","labelOffset":7,"rowPadding":7.9,"padding":9,"strokeColor":"#8c8c8c","fillColor":"white","labelLimit":300}}}
},
{
 "width":125,"height":170,
 "view":{"fill":"white","stroke":"#8c8c8c","strokeWidth":1.5},
 "data":{"values":[{"t":"lab","lab":"Max","p":100},{"t":"lab","lab":"75ᵗʰ","p":75},{"t":"lab","lab":"Median","p":50},{"t":"lab","lab":"25ᵗʰ","p":25},{"t":"lab","lab":"Min","p":0},{"t":"box","min":0,"q25":25,"med":50,"q75":75,"max":100}]},
 "layer":[
  {"data":{"values":[{"lab":"Percentile"}]},
   "mark":{"type":"text","align":"left","baseline":"middle","fontSize":13.5,"color":"#333333"},
   "encoding":{"x":{"datum":"lab","type":"nominal","scale":{"type":"point","domain":["lab","pad","dash","box"],"range":[14,93.5],"padding":0},"axis":null},
    "y":{"datum":128,"type":"quantitative","scale":{"domain":[-21,149],"nice":false,"zero":false},"axis":null},
    "text":{"field":"lab"}}},
  {"transform":[{"filter":"datum.t=='lab'"}],
   "mark":{"type":"text","align":"left","baseline":"middle","fontSize":11.5,"color":"#333333"},
   "encoding":{"x":{"datum":"lab","type":"nominal","scale":{"type":"point","domain":["lab","pad","dash","box"],"range":[14,93.5],"padding":0},"axis":null},
    "y":{"field":"p","type":"quantitative","scale":{"domain":[-21,149],"nice":false,"zero":false},"axis":null},
    "text":{"field":"lab"}}},
  {"transform":[{"filter":"datum.t=='lab'"}],
   "mark":{"type":"text","align":"center","baseline":"middle","fontSize":11,"color":"#333333"},
   "encoding":{"x":{"datum":"dash","type":"nominal","scale":{"type":"point","domain":["lab","pad","dash","box"],"range":[14,93.5],"padding":0},"axis":null},
    "y":{"field":"p","type":"quantitative","scale":{"domain":[-21,149],"nice":false,"zero":false},"axis":null},
    "text":{"value":"—"}}},
  {"transform":[{"filter":"datum.t=='box'"}],
   "mark":{"type":"bar","fill":"white","stroke":"#c8c4bc","strokeWidth":1.5,"width":23},
   "encoding":{"x":{"datum":"box","type":"nominal","scale":{"type":"point","domain":["lab","pad","dash","box"],"range":[14,93.5],"padding":0},"axis":null},
    "y":{"field":"min","type":"quantitative","scale":{"domain":[-21,149],"nice":false,"zero":false},"axis":null},
    "y2":{"field":"max"}}},
  {"transform":[{"filter":"datum.t=='box'"}],
   "mark":{"type":"bar","fill":"#4b8fd5","width":23},
   "encoding":{"x":{"datum":"box","type":"nominal","scale":{"type":"point","domain":["lab","pad","dash","box"],"range":[14,93.5],"padding":0},"axis":null},
    "y":{"field":"q25","type":"quantitative","scale":{"domain":[-21,149],"nice":false,"zero":false},"axis":null},
    "y2":{"field":"q75"}}},
  {"transform":[{"filter":"datum.t=='box'"}],
   "mark":{"type":"tick","thickness":5,"size":23,"color":"#1c2b56","opacity":1},
   "encoding":{"x":{"datum":"box","type":"nominal","scale":{"type":"point","domain":["lab","pad","dash","box"],"range":[14,93.5],"padding":0},"axis":null},
    "y":{"field":"med","type":"quantitative","scale":{"domain":[-21,149],"nice":false,"zero":false},"axis":null}}}
 ]
},
{
 "title":{"text":"SSP range  legend:","anchor":"middle","fontSize":17,"fontWeight":"normal","color":"#444444","offset":26},
 "width":125,"height":174,
 "view":{"fill":"white","stroke":"#8c8c8c","strokeWidth":1.5},
 "data":{"values":[{"t":"box","lo":0,"hi":100,"slo":21,"shi":73.4},{"t":"lab","lab":"RCP2.6 range\nover all\nSSPs","p":89},{"t":"lab","lab":"RCP2.6 range\nfor SSP2\nonly","p":31.2}]},
 "layer":[
  {"transform":[{"filter":"datum.t=='box'"}],
   "mark":{"type":"bar","fill":"white","stroke":"#c8c4bc","strokeWidth":1.5,"width":28},
   "encoding":{"x":{"datum":"box","type":"nominal","scale":{"type":"point","domain":["lab","pad","line","box"],"range":[15,103],"padding":0},"axis":null},
    "y":{"field":"lo","type":"quantitative","scale":{"domain":[-8.6,127.3],"nice":false,"zero":false},"axis":null},
    "y2":{"field":"hi"}}},
  {"transform":[{"filter":"datum.t=='box'"}],
   "mark":{"type":"bar","fill":"#aadff0","width":28},
   "encoding":{"x":{"datum":"box","type":"nominal","scale":{"type":"point","domain":["lab","pad","line","box"],"range":[15,103],"padding":0},"axis":null},
    "y":{"field":"slo","type":"quantitative","scale":{"domain":[-8.6,127.3],"nice":false,"zero":false},"axis":null},
    "y2":{"field":"shi"}}},
  {"transform":[{"filter":"datum.t=='lab'"}],
   "mark":{"type":"rule","color":"#222222","strokeWidth":1.2,"xOffset":-5,"x2Offset":-6},
   "encoding":{"x":{"datum":"line","type":"nominal","scale":{"type":"point","domain":["lab","pad","line","box"],"range":[15,103],"padding":0},"axis":null},
    "x2":{"datum":"box"},
    "y":{"field":"p","type":"quantitative","scale":{"domain":[-8.6,127.3],"nice":false,"zero":false},"axis":null}}},
  {"transform":[{"filter":"datum.t=='lab'"}],
   "mark":{"type":"text","align":"left","baseline":"middle","fontSize":12,"lineBreak":"\n","lineHeight":17,"dy":-15,"color":"#333333"},
   "encoding":{"x":{"datum":"lab","type":"nominal","scale":{"type":"point","domain":["lab","pad","line","box"],"range":[15,103],"padding":0},"axis":null},
    "y":{"field":"p","type":"quantitative","scale":{"domain":[-8.6,127.3],"nice":false,"zero":false},"axis":null},
    "text":{"field":"lab"}}}
 ]
}
],
"spacing":8,
"center":true,
"resolve":{"scale":{"x":"independent","y":"independent","color":"independent","fill":"independent"},"legend":{"color":"independent"}}
}
]
}
